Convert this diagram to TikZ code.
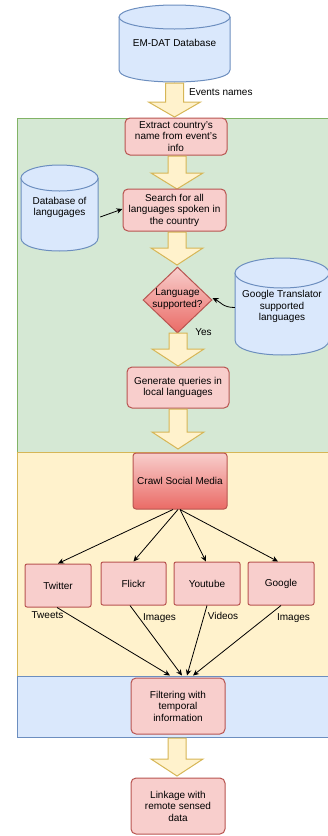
\documentclass[tikz,border=0pt]{standalone}
\usepackage{fontspec}
\setmainfont{Liberation Sans}
\usetikzlibrary{shapes.geometric,arrows.meta}
\definecolor{gfill}{HTML}{D5E8D4}\definecolor{gline}{HTML}{82B366}
\definecolor{yfill}{HTML}{FFF2CC}\definecolor{yline}{HTML}{D6B656}
\definecolor{bfill}{HTML}{DAE8FC}\definecolor{bline}{HTML}{6C8EBF}
\definecolor{rfill}{HTML}{F8CECC}\definecolor{rline}{HTML}{B85450}
\definecolor{rdark}{HTML}{EA6B66}
\tikzset{
  txt/.style={font=\fontsize{10}{11.5}\selectfont, align=center, inner sep=0pt},
  procbox/.style={draw=rline, fill=rfill, line width=1pt, rounded corners=5pt, txt},
  smbox/.style={draw=rline, fill=rfill, line width=1pt, rounded corners=2pt, txt},
  gradbox/.style={draw=rline, top color=rfill, bottom color=rdark, line width=1pt, txt},
  bigarr/.style={draw=yline, fill=yfill, line width=1pt, line join=miter},
  region/.style={line width=1pt},
  conn/.style={-{Stealth[length=6pt,width=5.5pt]}, line width=0.8pt},
  cylfill/.style={fill=bfill},
  cylline/.style={draw=bline, line width=1pt},
}
% big block arrow: center x, top y, neck y, tip y
\newcommand\blockarrow[4]{\draw[bigarr] (#1-9,#2) -- (#1+9,#2) -- (#1+9,#3) -- (#1+26,#3) -- (#1,#4) -- (#1-26,#3) -- (#1-9,#3) -- cycle;}
% cylinder: x1, ytop, x2, ybot, ry
\newcommand\cylshape[5]{%
  \fill[cylfill] (#1,#2+#5) rectangle (#3,#4-#5);
  \fill[cylfill] ({(#1+#3)/2},#4-#5) ellipse [x radius={(#3-#1)/2*1pt}, y radius=#5pt];
  \draw[cylline] (#1,#2+#5) -- (#1,#4-#5) .. controls (#1,{#4-#5+1.333*#5}) and (#3,{#4-#5+1.333*#5}) .. (#3,#4-#5) -- (#3,#2+#5);
  \draw[cylline, fill=bfill] ({(#1+#3)/2},#2+#5) ellipse [x radius={(#3-#1)/2*1pt}, y radius=#5pt];
}
\begin{document}
\begin{tikzpicture}[x=1pt,y=-1pt]
\useasboundingbox (0,0) rectangle (327,836);
% regions
\draw[region, draw=gline, fill=gfill] (17,118) rectangle (332,452);
\draw[region, draw=yline, fill=yfill] (17,452) rectangle (332,676);
\draw[region, draw=bline, fill=bfill] (17,676) rectangle (332,737);

% EM-DAT
\cylshape{119}{5}{230}{82}{12}
\node[txt] (emdat) at (174.5,43) {EM-DAT Database};
\blockarrow{174.5}{83}{102}{117}
\node[txt, anchor=west] (evn) at (189,92) {Events names};

\node[procbox, minimum width=102pt, minimum height=37pt] (extract) at (176,136.5) {Extract country's\\name from event's\\info};
\blockarrow{177}{156}{173}{189}
\node[procbox, minimum width=103pt, minimum height=42pt] (search) at (174.5,210) {Search for all\\languages spoken in\\the country};

% database of languages
\cylshape{21}{165}{98}{251}{13}
\node[inner sep=0pt, minimum width=77pt, minimum height=60pt] (dbl) at (59.5,212) {};
\node[txt] (dbltxt) at (59.5,207.5) {Database of\\langugages};
\draw[conn] ([xshift=2pt,yshift=-5pt]dbl.east) -- ([yshift=1pt]search.west);

\blockarrow{177}{232}{248}{265}
\node[diamond, draw=rline, top color=rfill, bottom color=rdark, line width=1pt, minimum width=69pt, minimum height=66pt, inner sep=0pt] (dia) at (177.5,300) {};
\node[txt] (diatxt) at (177.5,299) {Language\\supported?};

% Google translator
\cylshape{235}{258}{329}{355}{15}
\node[inner sep=0pt, minimum width=94pt, minimum height=60pt] (gt) at (282,306.5) {};
\node[txt] (gttxt) at (282,306.5) {Google Translator\\supported\\languages};
\draw[conn] ([yshift=-1pt]gt.west) .. controls +(-12,0) and +(8,4) .. ([yshift=2pt]dia.east);

\node[txt] (yes) at (203.5,332) {Yes};
\blockarrow{178}{333}{349}{366}
\node[procbox, minimum width=102pt, minimum height=41pt] (gen) at (178,387.5) {Generate queries in\\local languages};
\blockarrow{178}{409}{432}{449}

% crawl
\node[gradbox, rounded corners=3pt, minimum width=94pt, minimum height=56pt] (crawl) at (180,481) {Crawl Social Media};
\node[smbox, minimum width=66pt, minimum height=43pt] (tw) at (58,585.5) {Twitter};
\node[smbox, minimum width=65pt, minimum height=43pt] (fl) at (133.5,583.5) {Flickr};
\node[smbox, minimum width=66pt, minimum height=43pt] (yt) at (207,583.5) {Youtube};
\node[smbox, minimum width=66pt, minimum height=43pt] (go) at (281,583.5) {Google};
\draw[conn] ([xshift=-7pt]crawl.south) -- (tw.north);
\draw[conn] ([xshift=-2pt]crawl.south) -- (fl.north);
\draw[conn] (crawl.south) -- ([xshift=-1pt]yt.north);
\draw[conn] (crawl.south) -- ([xshift=-3pt]go.north);

% filtering
\node[procbox, minimum width=94pt, minimum height=56pt] (filt) at (178,706) {Filtering with\\temporal\\information};
\draw[conn] ([xshift=-1pt]tw.south) -- ([xshift=-8pt,yshift=2pt]filt.north);
\draw[conn] ([xshift=-3.5pt]fl.south) -- ([xshift=4pt,yshift=2pt]filt.north);
\draw[conn] (yt.south) -- ([xshift=9pt,yshift=2pt]filt.north);
\draw[conn] (go.south) -- ([xshift=15pt,yshift=2pt]filt.north);
\node[txt] (ltw) at (47.5,615) {Tweets};
\node[txt] (lfl) at (159.5,618) {Images};
\node[txt] (lyt) at (223,616) {Videos};
\node[txt] (lgo) at (293.5,618) {Images};

\blockarrow{177}{738}{759}{776}
\node[procbox, minimum width=94pt, minimum height=56pt] (link) at (178,806) {Linkage with\\remote sensed\\data};
\end{tikzpicture}
\end{document}
